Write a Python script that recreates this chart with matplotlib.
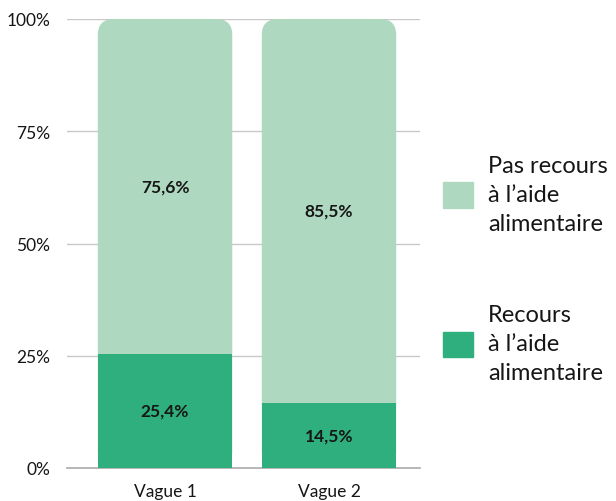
import matplotlib
matplotlib.use("Agg")
import matplotlib.pyplot as plt
from matplotlib.patches import FancyBboxPatch, Patch

plt.rcParams['font.family'] = ['Lato', 'DejaVu Sans']

# data
vagues = ["Vague 1", "Vague 2"]
recours = [25.4, 14.5]
pas_recours = [75.6, 85.5]
yticks = [0, 25, 50, 75, 100]
ytick_labels = ["0%", "25%", "50%", "75%", "100%"]
lbl_pas = "Pas recours\nà l\u2019aide\nalimentaire"
lbl_rec = "Recours\nà l\u2019aide\nalimentaire"

dark = "#2eaf7d"
light = "#aed8c0"

fig = plt.figure(figsize=(6.16, 5.02), dpi=100)
ax = fig.add_axes([67 / 616, 33 / 502, 353 / 616, 449 / 502])

x = range(len(vagues))
width = 0.82

# light bars drawn from 0 with rounded top, dark bars drawn on top
bars_light = ax.bar(x, [r + p for r, p in zip(recours, pas_recours)], width=width,
                    color=light, zorder=2)
ax.set_xlim(-0.598, 1.555)
ax.set_ylim(0, 100)
px_x = (1.555 + 0.598) / 353
px_y = 100 / 449
for rect in bars_light:
    bx, by = rect.get_x(), rect.get_y()
    bw, bh = rect.get_width(), min(rect.get_height(), 100)
    rect.set_visible(False)
    fp = FancyBboxPatch((bx, by), bw, bh,
                        boxstyle="round,pad=0,rounding_size=%f" % (16 * px_x),
                        mutation_aspect=px_y / px_x,
                        facecolor=light, edgecolor="none", zorder=2)
    ax.add_patch(fp)

ax.bar(x, recours, width=width, color=dark, zorder=3)

for i in x:
    ax.text(i, recours[i] / 2, ("%.1f%%" % recours[i]).replace(".", ","),
            ha="center", va="center", fontsize=12.5, fontweight="bold", color="#161616", zorder=4)
    top = min(recours[i] + pas_recours[i], 100)
    ax.text(i, (recours[i] + top) / 2, ("%.1f%%" % pas_recours[i]).replace(".", ","),
            ha="center", va="center", fontsize=12.5, fontweight="bold", color="#161616", zorder=4)

ax.set_yticks(yticks)
ax.set_yticklabels(ytick_labels)
ax.set_xticks(list(x))
ax.set_xticklabels(vagues)
ax.grid(axis="y", color="#c8c8c8", linewidth=1, zorder=0)
ax.axhline(0, color="#a8a8a8", linewidth=1.2, zorder=1, clip_on=False)
for s in ax.spines.values():
    s.set_visible(False)
ax.tick_params(axis="y", length=0, pad=12, labelsize=12.5, labelcolor="#161616")
ax.tick_params(axis="x", length=0, pad=11, labelsize=12.5, labelcolor="#161616")

handles = [Patch(color=light, label=lbl_pas), Patch(color=dark, label=lbl_rec)]
leg = fig.legend(handles=handles, loc="center left", bbox_to_anchor=(443 / 616, 1 - 270 / 502),
                 frameon=False, fontsize=17, handlelength=1.27, handleheight=1.27,
                 handletextpad=0.65, labelspacing=3.0, borderpad=0, borderaxespad=0)
for t in leg.get_texts():
    t.set_linespacing(1.45)
    t.set_color("#161616")

fig.savefig("out.png", dpi=100)
